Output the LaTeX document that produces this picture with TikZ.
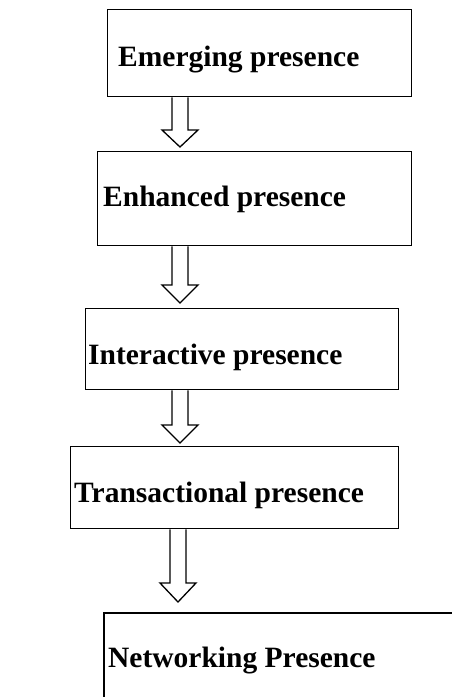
\documentclass[tikz,border=0pt]{standalone}
\usepackage{fontspec}
\setmainfont{Liberation Serif}
\usetikzlibrary{calc}
\tikzset{
  box/.style={draw, line width=1.4pt, anchor=north west, inner sep=0pt},
  lbl/.style={anchor=base west, inner sep=0pt, font=\fontsize{29.5}{32}\selectfont\bfseries},
  arrline/.style={draw, line width=1.3pt, line join=miter, fill=white}
}
% #1 start, #2 box top, #3 gap before box, #4 head length
\newcommand\blockarr[4]{%
  \draw[arrline] let \p1=(#1), \p2=(#2) in
    (\x1-8pt,\y1) -- (\x1-8pt,\y2+#3+#4) -- (\x1-18pt,\y2+#3+#4) -- (\x2,\y2+#3)
    -- (\x1+18pt,\y2+#3+#4) -- (\x1+8pt,\y2+#3+#4) -- (\x1+8pt,\y1);}
\begin{document}
\begin{tikzpicture}[x=1pt,y=1pt]
\useasboundingbox (0,0) rectangle (451,-697);
\node[box, minimum width=304pt, minimum height=87pt] (b1) at (107,-9) {};
\node[box, minimum width=314pt, minimum height=94pt] (b2) at (97,-151) {};
\node[box, minimum width=313pt, minimum height=81pt] (b3) at (85,-308) {};
\node[box, minimum width=328pt, minimum height=82pt] (b4) at (70,-446) {};
\draw[line width=1.4pt] (104,-700) -- (104,-613) -- (455,-613);
\coordinate (b5) at (104,-613);
\node[lbl] (t1) at (118,-66) {Emerging presence};
\node[lbl] (t2) at (103,-206) {Enhanced presence};
\node[lbl] (t3) at (88,-364) {Interactive presence};
\node[lbl] (t4) at (74,-502) {Transactional presence};
\node[lbl] (t5) at (108,-667) {Networking Presence};
\coordinate (ax) at (180,0);
\coordinate (ax4) at (178,0);
\blockarr{b1.south -| ax}{b2.north -| ax}{4pt}{17pt}
\blockarr{b2.south -| ax}{b3.north -| ax}{5pt}{18pt}
\blockarr{b3.south -| ax}{b4.north -| ax}{3pt}{18pt}
\blockarr{b4.south -| ax4}{b5 -| ax4}{11pt}{19pt}
\end{tikzpicture}
\end{document}
